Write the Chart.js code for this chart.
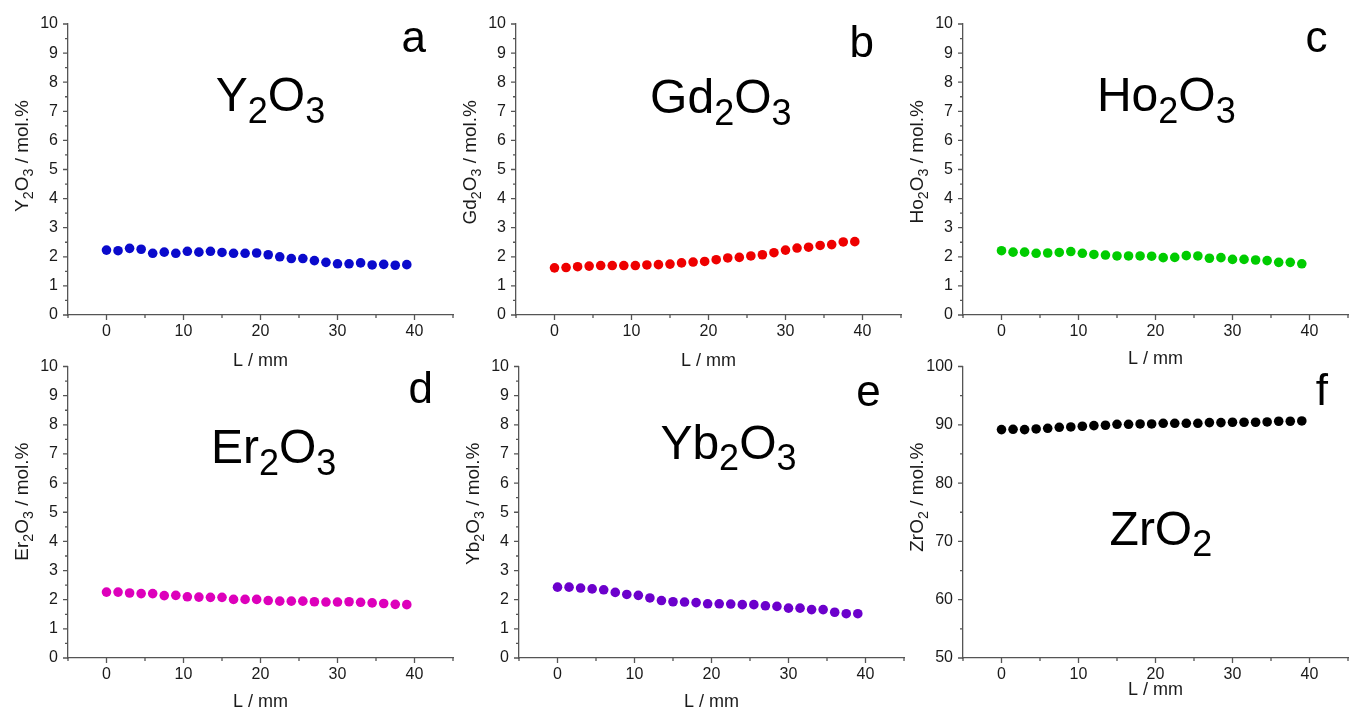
<!DOCTYPE html>
<html>
<head>
<meta charset="utf-8">
<script src="https://cdn.jsdelivr.net/npm/chart.js@4.4.1/dist/chart.umd.min.js"></script>
<style>
    html, body {
        margin: 0;
        padding: 0;
        background: #ffffff;
        width: 1351px;
        height: 709px;
        overflow: hidden;
        position: relative;
    }

    canvas {
        position: absolute;
    }
</style>
</head>
<body>

<canvas id="panelA" width="460" height="372" style="left:0px;top:0px"></canvas>
<canvas id="panelB" width="460" height="372" style="left:448px;top:0px"></canvas>
<canvas id="panelC" width="460" height="372" style="left:895px;top:0px"></canvas>
<canvas id="panelD" width="460" height="367" style="left:0px;top:342px"></canvas>
<canvas id="panelE" width="460" height="367" style="left:451px;top:342px"></canvas>
<canvas id="panelF" width="460" height="367" style="left:895px;top:342px"></canvas>

<script>
// ======================
// DATA
// ======================

// position along the sample, mm
const posL = [
    0, 1.5, 3, 4.5, 6, 7.5, 9, 10.5, 12, 13.5,
    15, 16.5, 18, 19.5, 21, 22.5, 24, 25.5, 27, 28.5,
    30, 31.5, 33, 34.5, 36, 37.5, 39
];

// content, mol.%
const y2o3 = [
    2.23, 2.21, 2.29, 2.26, 2.12, 2.16, 2.12, 2.19, 2.16, 2.19,
    2.15, 2.12, 2.12, 2.13, 2.07, 2.00, 1.94, 1.94, 1.87, 1.81,
    1.76, 1.76, 1.79, 1.72, 1.74, 1.71, 1.73
];

const gd2o3 = [
    1.62, 1.63, 1.66, 1.68, 1.70, 1.70, 1.70, 1.70, 1.72, 1.73,
    1.75, 1.79, 1.82, 1.84, 1.90, 1.96, 1.98, 2.03, 2.07, 2.14,
    2.23, 2.30, 2.33, 2.39, 2.42, 2.51, 2.52
];

const ho2o3 = [
    2.21, 2.16, 2.16, 2.12, 2.13, 2.15, 2.18, 2.12, 2.08, 2.06,
    2.03, 2.03, 2.03, 2.02, 1.97, 1.98, 2.04, 2.03, 1.95, 1.97,
    1.91, 1.91, 1.89, 1.87, 1.81, 1.81, 1.76
];

const er2o3 = [
    2.26, 2.26, 2.23, 2.21, 2.21, 2.14, 2.15, 2.10, 2.09, 2.08,
    2.08, 2.01, 2.01, 2.01, 1.97, 1.95, 1.95, 1.95, 1.93, 1.92,
    1.92, 1.93, 1.91, 1.89, 1.87, 1.84, 1.83
];

const yb2o3 = [
    2.43, 2.43, 2.40, 2.37, 2.34, 2.25, 2.18, 2.15, 2.06, 1.97,
    1.93, 1.92, 1.90, 1.86, 1.86, 1.85, 1.83, 1.83, 1.79, 1.77,
    1.71, 1.71, 1.66, 1.66, 1.57, 1.52, 1.52
];

const zro2 = [
    89.18, 89.23, 89.18, 89.29, 89.40, 89.57, 89.63, 89.75, 89.86, 89.92,
    90.09, 90.09, 90.15, 90.15, 90.26, 90.26, 90.26, 90.26, 90.38, 90.38,
    90.44, 90.44, 90.44, 90.49, 90.61, 90.61, 90.66
];

const xTickLabels = [0, 10, 20, 30, 40];

// ======================
// PANELS
// ======================

const FONT = "'Liberation Sans', Arial, sans-serif";
const AXIS_COLOR = "#555555";
const TEXT_COLOR = "#1a1a1a";

const panels = [
    {
        canvas: "panelA", letter: "a", color: "#0a0acc", values: y2o3,
        formula: [["Y", 0], ["2", 1], ["O", 0], ["3", 1]],
        yMin: 0, yMax: 10, yStep: 0.5, yMajor: 1,
        formulaAt: [21.3, 7.0], letterAt: [39.9, 9.04],
        padTop: 24, xHeight: 57, xTitleGap: 51
    },
    {
        canvas: "panelB", letter: "b", color: "#ee0000", values: gd2o3,
        formula: [["Gd", 0], ["2", 1], ["O", 0], ["3", 1]],
        yMin: 0, yMax: 10, yStep: 0.5, yMajor: 1,
        formulaAt: [21.6, 6.94], letterAt: [39.9, 8.87],
        padTop: 24, xHeight: 57, xTitleGap: 51
    },
    {
        canvas: "panelC", letter: "c", color: "#00cc00", values: ho2o3,
        formula: [["Ho", 0], ["2", 1], ["O", 0], ["3", 1]],
        yMin: 0, yMax: 10, yStep: 0.5, yMajor: 1,
        formulaAt: [21.4, 7.0], letterAt: [40.9, 9.04],
        padTop: 24, xHeight: 57, xTitleGap: 49
    },
    {
        canvas: "panelD", letter: "d", color: "#dd00bb", values: er2o3,
        formula: [["Er", 0], ["2", 1], ["O", 0], ["3", 1]],
        yMin: 0, yMax: 10, yStep: 0.5, yMajor: 1,
        formulaAt: [21.7, 6.69], letterAt: [40.8, 8.75],
        padTop: 24.5, xHeight: 51, xTitleGap: 49
    },
    {
        canvas: "panelE", letter: "e", color: "#6c00cc", values: yb2o3,
        formula: [["Yb", 0], ["2", 1], ["O", 0], ["3", 1]],
        yMin: 0, yMax: 10, yStep: 0.5, yMajor: 1,
        formulaAt: [22.2, 6.83], letterAt: [40.4, 8.64],
        padTop: 24.5, xHeight: 51, xTitleGap: 49
    },
    {
        canvas: "panelF", letter: "f", color: "#000000", values: zro2,
        formula: [["ZrO", 0], ["2", 1]],
        yMin: 50, yMax: 100, yStep: 5, yMajor: 10,
        formulaAt: [20.7, 69.4], letterAt: [41.6, 93.4],
        padTop: 24.5, xHeight: 51, xTitleGap: 37
    }
];

// text with lowered, smaller digits (chemical formulae)
function drawRich(ctx, parts, x, y, size, align) {
    const subSize = size * 0.75;
    let width = 0;

    parts.forEach(([t, sub]) => {
        ctx.font = (sub ? subSize : size) + "px " + FONT;
        width += ctx.measureText(t).width;
    });

    let cx = x;
    if (align === "center") cx = x - width / 2;
    if (align === "right") cx = x - width;

    ctx.textAlign = "left";
    ctx.textBaseline = "alphabetic";

    parts.forEach(([t, sub]) => {
        ctx.font = (sub ? subSize : size) + "px " + FONT;
        ctx.fillText(t, cx, sub ? y + size * 0.24 : y);
        cx += ctx.measureText(t).width;
    });
}

function isMajor(value, step) {
    const r = value / step;
    return Math.abs(r - Math.round(r)) < 1e-6;
}

function decorPlugin(p) {
    return {
        id: "decor",
        afterDraw(chart) {
            const ctx = chart.ctx;
            const xs = chart.scales.x;
            const ys = chart.scales.y;
            const area = chart.chartArea;

            ctx.save();

            // outward tick marks, long for labelled values
            ctx.strokeStyle = AXIS_COLOR;
            ctx.lineWidth = 1.3;
            ctx.beginPath();
            xs.ticks.forEach(t => {
                const px = xs.getPixelForValue(t.value);
                const len = isMajor(t.value, 10) ? 5 : 3;
                ctx.moveTo(px, area.bottom);
                ctx.lineTo(px, area.bottom + len);
            });
            ys.ticks.forEach(t => {
                const py = ys.getPixelForValue(t.value);
                const len = isMajor(t.value, p.yMajor) ? 5 : 3;
                ctx.moveTo(area.left, py);
                ctx.lineTo(area.left - len, py);
            });
            ctx.stroke();

            ctx.fillStyle = TEXT_COLOR;

            // x title
            ctx.font = "18px " + FONT;
            ctx.textAlign = "center";
            ctx.textBaseline = "alphabetic";
            ctx.fillText("L / mm", (area.left + area.right) / 2, area.bottom + p.xTitleGap);

            // y title, rotated
            ctx.save();
            ctx.translate(area.left - 40, area.top + 76);
            ctx.rotate(-Math.PI / 2);
            drawRich(ctx, p.formula.concat([[" / mol.%", 0]]), 0, 0, 19, "right");
            ctx.restore();

            // formula inside the plot
            ctx.fillStyle = "#000000";
            drawRich(
                ctx,
                p.formula,
                xs.getPixelForValue(p.formulaAt[0]),
                ys.getPixelForValue(p.formulaAt[1]),
                48,
                "center"
            );

            // panel letter
            ctx.font = "44px " + FONT;
            ctx.textAlign = "center";
            ctx.textBaseline = "alphabetic";
            ctx.fillText(
                p.letter,
                xs.getPixelForValue(p.letterAt[0]),
                ys.getPixelForValue(p.letterAt[1])
            );

            ctx.restore();
        }
    };
}

panels.forEach(p => {

    new Chart(
        document.getElementById(p.canvas),
        {
            type: "scatter",

            data: {
                datasets: [{
                    data: posL.map((x, i) => ({ x: x, y: p.values[i] })),
                    backgroundColor: p.color,
                    borderWidth: 0,
                    pointRadius: 4.8,
                    showLine: false
                }]
            },

            options: {
                responsive: false,
                animation: false,
                events: [],

                layout: {
                    padding: {
                        top: p.padTop,
                        right: 1,
                        left: 0,
                        bottom: 0
                    }
                },

                plugins: {
                    legend: { display: false },
                    tooltip: { enabled: false }
                },

                scales: {
                    x: {
                        type: "linear",
                        min: -5,
                        max: 45,
                        afterFit: scale => { scale.height = p.xHeight; },
                        grid: { display: false, drawTicks: false },
                        border: { display: true, color: AXIS_COLOR, width: 1.3 },
                        ticks: {
                            stepSize: 5,
                            autoSkip: false,
                            maxRotation: 0,
                            padding: 7,
                            color: TEXT_COLOR,
                            font: { family: FONT, size: 16 },
                            callback: v => xTickLabels.includes(v) ? String(v) : ""
                        }
                    },
                    y: {
                        min: p.yMin,
                        max: p.yMax,
                        afterFit: scale => { scale.width = 68; },
                        grid: { display: false, drawTicks: false },
                        border: { display: true, color: AXIS_COLOR, width: 1.3 },
                        ticks: {
                            stepSize: p.yStep,
                            autoSkip: false,
                            padding: 10,
                            color: TEXT_COLOR,
                            font: { family: FONT, size: 16 },
                            callback: v => isMajor(v, p.yMajor) ? String(v) : ""
                        }
                    }
                }
            },

            plugins: [decorPlugin(p)]
        }
    );

});
</script>
</body>
</html>
